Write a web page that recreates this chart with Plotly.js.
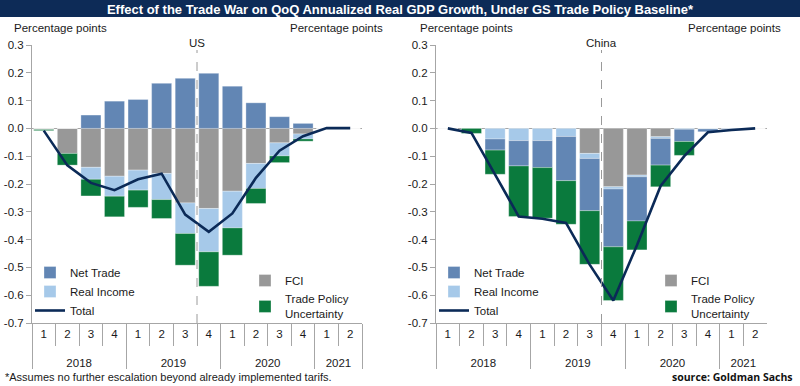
<!DOCTYPE html>
<html><head><meta charset="utf-8">
<script src="https://cdn.plot.ly/plotly-3.0.1.min.js"></script>
<style>html,body{margin:0;padding:0;background:#fff}#chart{width:800px;height:386px}</style>
</head><body><div id="chart"></div>
<script>
// ---- categories ----
const years    = ['2018','2018','2018','2018','2019','2019','2019','2019','2020','2020','2020','2020','2021','2021'];
const quarters = ['1','2','3','4','1','2','3','4','1','2','3','4','1','2'];

// ---- US (percentage points) ----
const usNetTrade   = [0, 0, 0.048, 0.098, 0.104, 0.162, 0.180, 0.198, 0.152, 0.092, 0.042, 0.018, 0, 0];
const usRealIncome = [0, 0, -0.043, -0.072, -0.072, -0.094, -0.110, -0.156, -0.132, -0.090, -0.047, -0.018, 0, 0];
const usFCI        = [-0.004, -0.090, -0.140, -0.172, -0.150, -0.162, -0.268, -0.288, -0.226, -0.126, -0.052, -0.020, -0.002, 0];
const usTPU        = [-0.004, -0.042, -0.060, -0.074, -0.062, -0.068, -0.114, -0.124, -0.098, -0.054, -0.024, -0.008, 0, 0];
const usTotal      = [-0.008, -0.133, -0.196, -0.222, -0.183, -0.163, -0.310, -0.372, -0.306, -0.178, -0.080, -0.028, 0.001, 0.001];

// ---- China (percentage points) ----
const cnNetTrade   = [0, 0, -0.040, -0.091, -0.097, -0.159, -0.188, -0.208, -0.159, -0.096, -0.044, -0.010, -0.004, 0];
const cnRealIncome = [0, 0, -0.038, -0.044, -0.044, -0.029, -0.018, -0.008, -0.006, -0.006, -0.003, -0.002, 0, 0];
const cnFCI        = [0, 0, 0, 0, 0, 0, -0.090, -0.210, -0.168, -0.030, 0, 0, 0, 0];
const cnTPU        = [0, -0.018, -0.087, -0.182, -0.182, -0.157, -0.193, -0.193, -0.104, -0.078, -0.050, 0, 0, 0];
const cnTotal      = [0, -0.016, -0.166, -0.317, -0.325, -0.340, -0.490, -0.619, -0.420, -0.207, -0.100, -0.014, -0.006, 0];

// ---- tick labels ----
const yTickVals = [0.3, 0.2, 0.1, 0, -0.1, -0.2, -0.3, -0.4, -0.5, -0.6, -0.7];
const yTickText = ['0.3','0.2','0.1','0.0','-0.1','-0.2','-0.3','-0.4','-0.5','-0.6','-0.7'];

const FONT = 'Liberation Sans, Arial, sans-serif';
const C = {net:'#6286b4', inc:'#a6c9e9', fci:'#989898', tpu:'#0a7a3d', tot:'#0b2a57', axis:'#a6a6a6', text:'#1a1a1a'};
// quarter labels get an empty second line so the year row sits lower, as in the original
const X = [years, quarters.map(q => q + '<br> ')];

function panel(xa, ya, d, lgA, lgB) {
  const bl = {color:'rgba(255,255,255,0.5)', width:0.6};
  return [
    {type:'bar', name:'FCI', x:X, y:d.fci, xaxis:xa, yaxis:ya, marker:{color:C.fci, line:bl}, legend:lgB, legendrank:1},
    {type:'bar', name:'Real Income', x:X, y:d.inc, xaxis:xa, yaxis:ya, marker:{color:C.inc, line:bl}, legend:lgA, legendrank:2},
    {type:'bar', name:'Net Trade', x:X, y:d.net, xaxis:xa, yaxis:ya, marker:{color:C.net, line:bl}, legend:lgA, legendrank:1},
    {type:'bar', name:'Trade Policy<br>Uncertainty', x:X, y:d.tpu, xaxis:xa, yaxis:ya, marker:{color:C.tpu, line:bl}, legend:lgB, legendrank:2},
    {type:'scatter', mode:'lines', name:'Total', x:X, y:d.tot, xaxis:xa, yaxis:ya, line:{color:C.tot, width:2.6}, legend:lgA, legendrank:3}
  ];
}

const data = [].concat(
  panel('x','y', {net:usNetTrade, inc:usRealIncome, fci:usFCI, tpu:usTPU, tot:usTotal}, 'legend','legend2'),
  panel('x2','y3', {net:cnNetTrade, inc:cnRealIncome, fci:cnFCI, tpu:cnTPU, tot:cnTotal}, 'legend3','legend4')
);

const W = 800, H = 386;
const yDom = [1 - 323/H, 1 - 45/H];
const tickFont = {family:FONT, size:11.5, color:C.text};

function xAxis(dom, anchor) {
  return {type:'multicategory', domain:dom, anchor:anchor, showline:true, linecolor:C.axis, linewidth:1,
    ticks:'outside', ticklen:22, tickcolor:C.axis, tickwidth:1, showdividers:true, dividercolor:C.axis, dividerwidth:1,
    tickfont:tickFont, showgrid:false, zeroline:false, fixedrange:true};
}
function yAxis(extra) {
  return Object.assign({domain:yDom, range:[-0.7,0.3], tickmode:'array', tickvals:yTickVals, ticktext:yTickText,
    ticks:'outside', ticklen:5, tickcolor:C.axis, showline:true, linecolor:C.axis, linewidth:1, showgrid:false,
    zeroline:false, tickfont:tickFont, fixedrange:true}, extra);
}
function legend(xpx, ypx) {
  return {x:xpx/W, xanchor:'left', y:1-ypx/H, yanchor:'top', bgcolor:'rgba(0,0,0,0)', font:{family:FONT, size:11.5, color:C.text},
    tracegroupgap:0, traceorder:'normal', itemwidth:30};
}
function ann(text, x, y, xanchor, extra) {
  return Object.assign({text:text, xref:'paper', yref:'paper', x:x/W, y:1-y/H, xanchor:xanchor, yanchor:'middle', showarrow:false,
    font:{family:FONT, size:11.5, color:C.text}}, extra||{});
}

const layout = {
  width:W, height:H, margin:{l:0,r:0,t:0,b:0}, paper_bgcolor:'#fff', plot_bgcolor:'rgba(0,0,0,0)',
  barmode:'relative', bargap:0.15, font:{family:FONT, color:C.text},
  title:{text:'Effect of the Trade War on QoQ Annualized Real GDP Growth, Under GS Trade Policy Baseline*',
    x:0.5, xanchor:'center', y:1-9/H, yanchor:'middle', font:{family:FONT, size:13, color:'#ffffff', weight:'bold'}},
  xaxis: xAxis([32/W, 362/W], 'y'),
  xaxis2: xAxis([436/W, 767/W], 'y3'),
  yaxis: yAxis({anchor:'x', zeroline:true, zerolinecolor:C.axis, zerolinewidth:1.5}),
  yaxis2: yAxis({anchor:'x', overlaying:'y', side:'right'}),
  yaxis3: yAxis({anchor:'x2', zeroline:true, zerolinecolor:C.axis, zerolinewidth:1.5}),
  yaxis4: yAxis({anchor:'x2', overlaying:'y3', side:'right'}),
  legend: legend(30, 258),
  legend2: legend(245, 266),
  legend3: legend(434, 258),
  legend4: legend(651, 266),
  shapes:[
    {type:'rect', xref:'paper', yref:'paper', x0:0, x1:1, y0:1-17/H, y1:1, fillcolor:'#0d2b57', line:{width:0}, layer:'below'},
    {type:'line', xref:'x domain', yref:'paper', x0:0.5, x1:0.5, y0:1-323/H, y1:1-50/H, line:{color:'#9a9a9a', width:1, dash:'dash'}},
    {type:'line', xref:'x2 domain', yref:'paper', x0:0.5, x1:0.5, y0:1-323/H, y1:1-50/H, line:{color:'#9a9a9a', width:1, dash:'dash'}}
  ],
  annotations:[
    ann('Percentage points', 12, 28, 'left'),
    ann('Percentage points', 385, 28, 'right'),
    ann('Percentage points', 418, 28, 'left'),
    ann('Percentage points', 783, 28, 'right'),
    Object.assign(ann('US', 0, 43, 'center'), {xref:'x domain', x:0.5}),
    Object.assign(ann('China', 0, 43, 'center'), {xref:'x2 domain', x:0.5}),
    ann('*Assumes no further escalation beyond already implemented tarifs.', 3, 377, 'left', {font:{family:FONT, size:11, color:C.text}}),
    ann('source: Goldman Sachs', 795, 377, 'right', {font:{family:'Open Sans, '+FONT, size:10.5, color:'#111', weight:'bold'}})
  ]
};

Plotly.newPlot('chart', data, layout, {displayModeBar:false, staticPlot:true});
</script></body></html>
